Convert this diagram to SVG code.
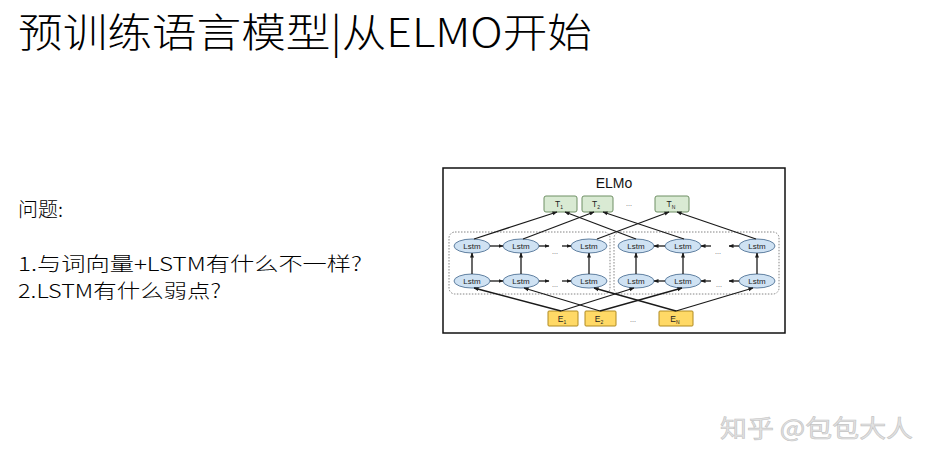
<svg xmlns="http://www.w3.org/2000/svg" width="944" height="470" viewBox="0 0 944 470">
<defs>
<style>
.cjk{font-family:"Microsoft YaHei","Noto Sans CJK SC","Noto Sans",sans-serif;fill:#000;font-weight:300}
.lbl{font-family:"Liberation Sans",Arial,sans-serif}
.lstm ellipse{fill:#cfe2f3;stroke:#5f7fa0;stroke-width:1}
.lstm text{font-family:"Liberation Sans",Arial,sans-serif;font-size:8px;fill:#222;text-anchor:middle}
.tbox rect{fill:#d9ead3;stroke:#6f8f64;stroke-width:1}
.ebox rect{fill:#ffd966;stroke:#b08a20;stroke-width:1}
.tbox text,.ebox text{font-family:"Liberation Sans",Arial,sans-serif;font-size:8.5px;fill:#222;text-anchor:middle}
.conn line{stroke:#1a1a1a;stroke-width:1.3;marker-end:url(#ah)}
.dots{font-family:"Liberation Sans",Arial,sans-serif;font-size:7px;fill:#555;text-anchor:middle}
.grp{fill:none;stroke:#777;stroke-width:0.9;stroke-dasharray:1.5 1.5}
</style>
<marker id="ah" viewBox="0 0 10 10" refX="9" refY="5" markerWidth="5" markerHeight="5" orient="auto" markerUnits="userSpaceOnUse">
<path d="M0,1 L10,5 L0,9 z" fill="#1a1a1a"/>
</marker>
</defs>
<rect width="944" height="470" fill="#fff"/>
<g id="title"><text class="cjk" x="18" y="47" font-size="40" textLength="574" lengthAdjust="spacingAndGlyphs">预训练语言模型|从ELMO开始</text></g>
<g id="question">
<text class="cjk" x="18" y="217" font-size="20">问题:</text>
<text class="cjk" x="18" y="271" font-size="19" textLength="344" lengthAdjust="spacingAndGlyphs">1.与词向量+LSTM有什么不一样?</text>
<text class="cjk" x="18" y="298" font-size="19" textLength="203" lengthAdjust="spacingAndGlyphs">2.LSTM有什么弱点?</text>
</g>
<g id="elmo-frame">
<rect x="443" y="168" width="342" height="165" fill="#fff" stroke="#111" stroke-width="1.5"/>
<text class="lbl" x="614" y="188" font-size="14" text-anchor="middle" fill="#111">ELMo</text>
<rect class="grp" x="449" y="232" width="161" height="62" rx="6"/>
<rect class="grp" x="614" y="232" width="165" height="62" rx="6"/>
</g>
<g id="T1" class="tbox"><rect x="544" y="196" width="33" height="16" rx="2"/><text x="559" y="207">T<tspan font-size="5" dy="1.5">1</tspan></text></g>
<g id="T2" class="tbox"><rect x="582" y="196" width="31" height="16" rx="2"/><text x="596" y="207">T<tspan font-size="5" dy="1.5">2</tspan></text></g>
<text class="dots" x="629" y="206">...</text>
<g id="TN" class="tbox"><rect x="655" y="196" width="34" height="16" rx="2"/><text x="671" y="207">T<tspan font-size="5" dy="1.5">N</tspan></text></g>
<g id="E1" class="ebox"><rect x="548" y="311" width="30" height="15" rx="1"/><text x="562" y="322">E<tspan font-size="5" dy="1.5">1</tspan></text></g>
<g id="E2" class="ebox"><rect x="585" y="311" width="31" height="15" rx="1"/><text x="599" y="322">E<tspan font-size="5" dy="1.5">2</tspan></text></g>
<text class="dots" x="633" y="322">...</text>
<g id="EN" class="ebox"><rect x="659" y="311" width="34" height="15" rx="1"/><text x="675" y="322">E<tspan font-size="5" dy="1.5">N</tspan></text></g>
<g id="fwd-top-1" class="lstm"><ellipse cx="472" cy="246" rx="18" ry="7"/><text x="472" y="249">Lstm</text></g>
<g id="fwd-top-2" class="lstm"><ellipse cx="521" cy="246" rx="18" ry="7"/><text x="521" y="249">Lstm</text></g>
<g id="fwd-top-N" class="lstm"><ellipse cx="589" cy="246" rx="18" ry="7"/><text x="589" y="249">Lstm</text></g>
<g id="bwd-top-1" class="lstm"><ellipse cx="636" cy="246" rx="18" ry="7"/><text x="636" y="249">Lstm</text></g>
<g id="bwd-top-2" class="lstm"><ellipse cx="683" cy="246" rx="18" ry="7"/><text x="683" y="249">Lstm</text></g>
<g id="bwd-top-N" class="lstm"><ellipse cx="757" cy="246" rx="18" ry="7"/><text x="757" y="249">Lstm</text></g>
<g id="fwd-bot-1" class="lstm"><ellipse cx="472" cy="281" rx="18" ry="7"/><text x="472" y="284">Lstm</text></g>
<g id="fwd-bot-2" class="lstm"><ellipse cx="521" cy="281" rx="18" ry="7"/><text x="521" y="284">Lstm</text></g>
<g id="fwd-bot-N" class="lstm"><ellipse cx="589" cy="281" rx="18" ry="7"/><text x="589" y="284">Lstm</text></g>
<g id="bwd-bot-1" class="lstm"><ellipse cx="636" cy="281" rx="18" ry="7"/><text x="636" y="284">Lstm</text></g>
<g id="bwd-bot-2" class="lstm"><ellipse cx="683" cy="281" rx="18" ry="7"/><text x="683" y="284">Lstm</text></g>
<g id="bwd-bot-N" class="lstm"><ellipse cx="757" cy="281" rx="18" ry="7"/><text x="757" y="284">Lstm</text></g>
<text class="dots" x="555" y="254">...</text>
<text class="dots" x="555" y="287">...</text>
<text class="dots" x="718" y="254">...</text>
<text class="dots" x="719" y="287">...</text>
<g id="connectors" class="conn">
<line x1="474" y1="239" x2="557" y2="212"/>
<line x1="523" y1="239" x2="594" y2="212"/>
<line x1="597" y1="239" x2="669" y2="212"/>
<line x1="636" y1="239" x2="565" y2="212"/>
<line x1="684" y1="239" x2="603" y2="212"/>
<line x1="756" y1="239" x2="677" y2="212"/>
<line x1="561" y1="311" x2="474" y2="288"/>
<line x1="561" y1="311" x2="634" y2="288"/>
<line x1="600" y1="311" x2="524" y2="288"/>
<line x1="600" y1="311" x2="682" y2="288"/>
<line x1="676" y1="311" x2="594" y2="288"/>
<line x1="676" y1="311" x2="753" y2="288"/>
<line x1="472" y1="274" x2="472" y2="253"/>
<line x1="521" y1="274" x2="521" y2="253"/>
<line x1="589" y1="274" x2="589" y2="253"/>
<line x1="636" y1="274" x2="636" y2="253"/>
<line x1="683" y1="274" x2="683" y2="253"/>
<line x1="757" y1="274" x2="757" y2="253"/>
<line x1="490" y1="246" x2="503" y2="246"/>
<line x1="539" y1="246" x2="549" y2="246"/>
<line x1="562" y1="246" x2="571" y2="246"/>
<line x1="490" y1="281" x2="503" y2="281"/>
<line x1="539" y1="281" x2="549" y2="281"/>
<line x1="562" y1="281" x2="571" y2="281"/>
<line x1="665" y1="246" x2="654" y2="246"/>
<line x1="711" y1="246" x2="701" y2="246"/>
<line x1="739" y1="246" x2="729" y2="246"/>
<line x1="665" y1="281" x2="654" y2="281"/>
<line x1="711" y1="281" x2="701" y2="281"/>
<line x1="739" y1="281" x2="729" y2="281"/>
</g>
<g id="watermark"><text x="720" y="437" font-family="'Noto Sans CJK SC',sans-serif" font-size="24" fill="#e2e2e2" stroke="#c4c4c4" stroke-width="0.6" textLength="193" lengthAdjust="spacingAndGlyphs">知乎 @包包大人</text></g>
</svg>
